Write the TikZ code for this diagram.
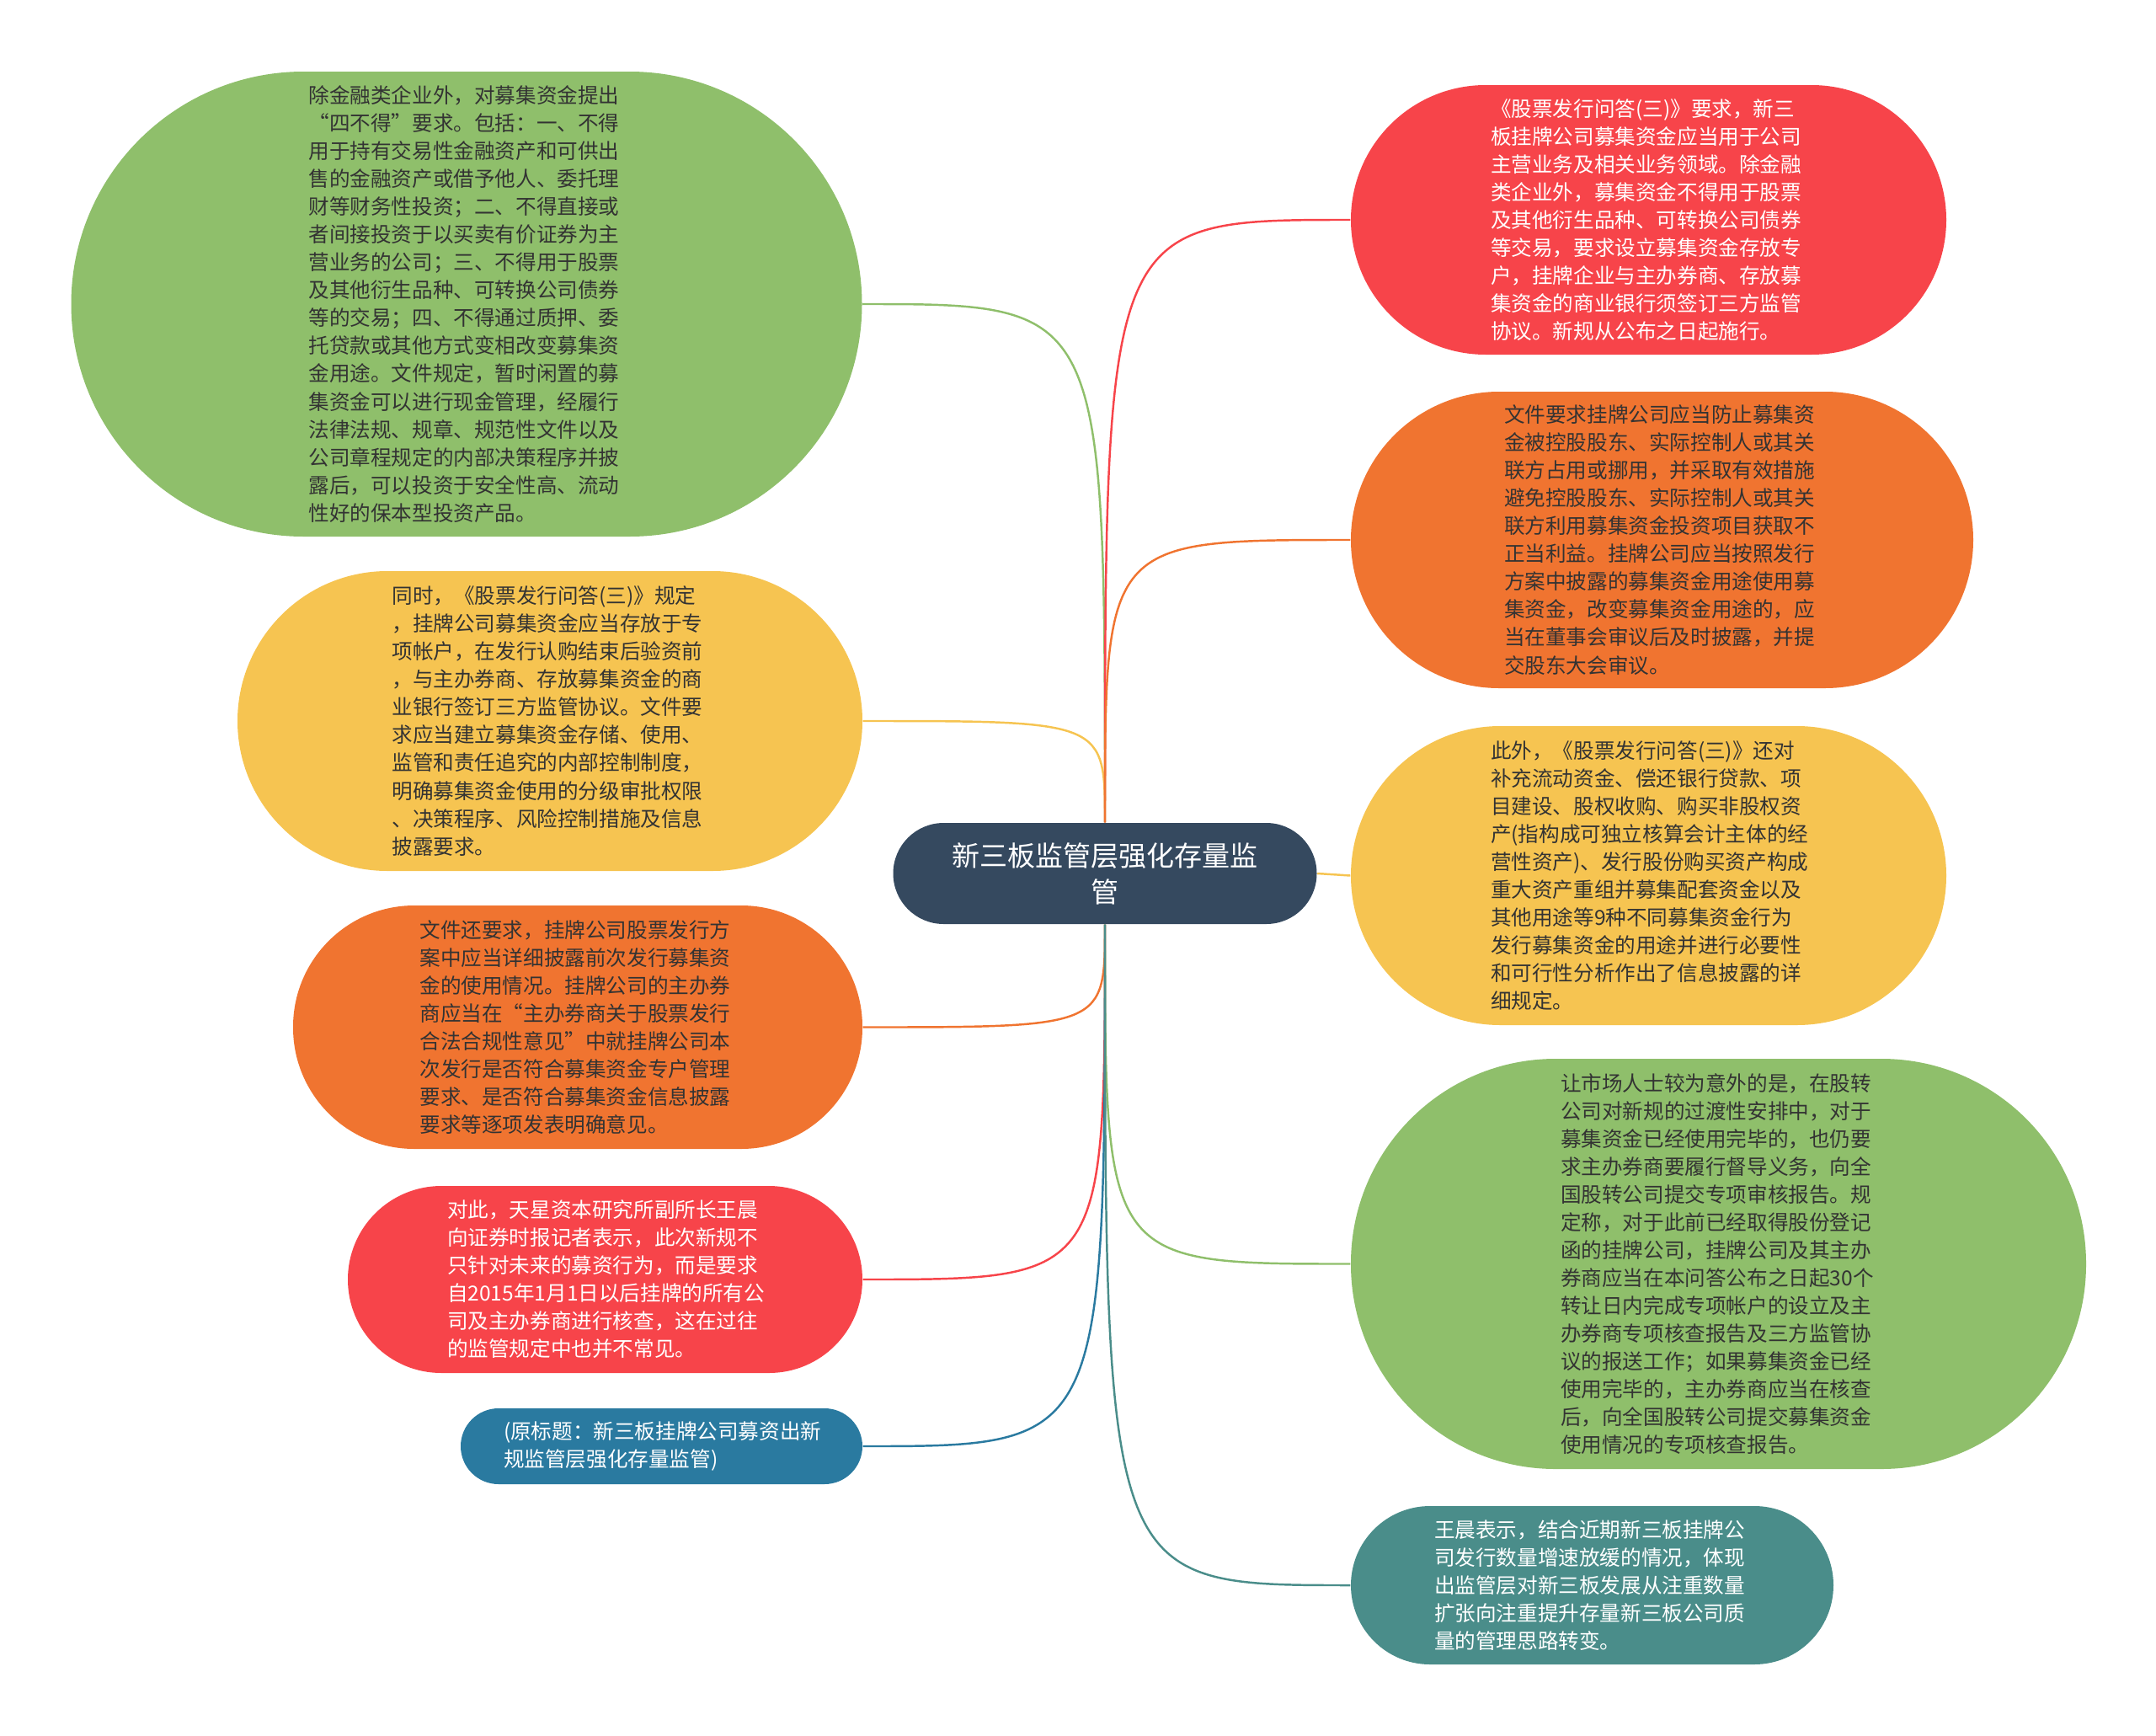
\documentclass[tikz,border=0pt]{standalone}
\usepackage{fontspec}
\newfontfamily\cjk{Noto Sans CJK SC}
\usepackage{tikz}
\definecolor{cgreen}{HTML}{8FBF6B}
\definecolor{cyellow}{HTML}{F6C451}
\definecolor{corange}{HTML}{F07430}
\definecolor{cred}{HTML}{F7444A}
\definecolor{cblue}{HTML}{2A7AA0}
\definecolor{cteal}{HTML}{4A8D8A}
\definecolor{chub}{HTML}{35495F}
\definecolor{cdark}{HTML}{333333}

\begin{document}
\begin{tikzpicture}[
  leaf/.style={rectangle,fill=#1,inner sep=0pt,text width=3.75cm,align=left,
    font=\cjk\fontsize{7}{9.4}\selectfont},
  hub/.style={rectangle,fill=chub,text=white,inner sep=0pt,text width=3.75cm,align=center,
    font=\cjk\fontsize{9.4}{12.2}\selectfont},
  link/.style={draw=#1,line width=0.7pt}
]
\useasboundingbox (0,0) rectangle (25.6,-20.61);

  \node[hub,minimum width=5.03cm,minimum height=1.2cm,rounded corners=0.6cm] (root) at (13.12,-10.37) {新三板监管层强化存量监\\管};

  % left side
  \node[leaf=cgreen,text=cdark,minimum width=9.39cm,minimum height=5.52cm,rounded corners=2.76cm] (l1) at (5.54,-3.61) {除金融类企业外，对募集资金提出\\“四不得”要求。包括：一、不得\\用于持有交易性金融资产和可供出\\售的金融资产或借予他人、委托理\\财等财务性投资；二、不得直接或\\者间接投资于以买卖有价证券为主\\营业务的公司；三、不得用于股票\\及其他衍生品种、可转换公司债券\\等的交易；四、不得通过质押、委\\托贷款或其他方式变相改变募集资\\金用途。文件规定，暂时闲置的募\\集资金可以进行现金管理，经履行\\法律法规、规章、规范性文件以及\\公司章程规定的内部决策程序并披\\露后，可以投资于安全性高、流动\\性好的保本型投资产品。};
  \node[leaf=cyellow,text=cdark,minimum width=7.42cm,minimum height=3.56cm,rounded corners=1.78cm] (l2) at (6.53,-8.56) {同时，《股票发行问答(三)》规定\\，挂牌公司募集资金应当存放于专\\项帐户，在发行认购结束后验资前\\，与主办券商、存放募集资金的商\\业银行签订三方监管协议。文件要\\求应当建立募集资金存储、使用、\\监管和责任追究的内部控制制度，\\明确募集资金使用的分级审批权限\\、决策程序、风险控制措施及信息\\披露要求。};
  \node[leaf=corange,text=cdark,minimum width=6.76cm,minimum height=2.89cm,rounded corners=1.44cm] (l3) at (6.86,-12.195) {文件还要求，挂牌公司股票发行方\\案中应当详细披露前次发行募集资\\金的使用情况。挂牌公司的主办券\\商应当在“主办券商关于股票发行\\合法合规性意见”中就挂牌公司本\\次发行是否符合募集资金专户管理\\要求、是否符合募集资金信息披露\\要求等逐项发表明确意见。};
  \node[leaf=cred,text=white,minimum width=6.11cm,minimum height=2.22cm,rounded corners=1.11cm] (l4) at (7.185,-15.19) {对此，天星资本研究所副所长王晨\\向证券时报记者表示，此次新规不\\只针对未来的募资行为，而是要求\\自2015年1月1日以后挂牌的所有公\\司及主办券商进行核查，这在过往\\的监管规定中也并不常见。};
  \node[leaf=cblue,text=white,minimum width=4.77cm,minimum height=0.9cm,rounded corners=0.45cm] (l5) at (7.855,-17.17) {(原标题：新三板挂牌公司募资出新\\规监管层强化存量监管)};

  % right side
  \node[leaf=cred,text=white,minimum width=7.07cm,minimum height=3.2cm,rounded corners=1.6cm] (r1) at (19.575,-2.61) {《股票发行问答(三)》要求，新三\\板挂牌公司募集资金应当用于公司\\主营业务及相关业务领域。除金融\\类企业外，募集资金不得用于股票\\及其他衍生品种、可转换公司债券\\等交易，要求设立募集资金存放专\\户，挂牌企业与主办券商、存放募\\集资金的商业银行须签订三方监管\\协议。新规从公布之日起施行。};
  \node[leaf=corange,text=cdark,minimum width=7.39cm,minimum height=3.52cm,rounded corners=1.76cm] (r2) at (19.735,-6.41) {文件要求挂牌公司应当防止募集资\\金被控股股东、实际控制人或其关\\联方占用或挪用，并采取有效措施\\避免控股股东、实际控制人或其关\\联方利用募集资金投资项目获取不\\正当利益。挂牌公司应当按照发行\\方案中披露的募集资金用途使用募\\集资金，改变募集资金用途的，应\\当在董事会审议后及时披露，并提\\交股东大会审议。};
  \node[leaf=cyellow,text=cdark,minimum width=7.07cm,minimum height=3.55cm,rounded corners=1.775cm] (r3) at (19.575,-10.395) {此外，《股票发行问答(三)》还对\\补充流动资金、偿还银行贷款、项\\目建设、股权收购、购买非股权资\\产(指构成可独立核算会计主体的经\\营性资产)、发行股份购买资产构成\\重大资产重组并募集配套资金以及\\其他用途等9种不同募集资金行为\\发行募集资金的用途并进行必要性\\和可行性分析作出了信息披露的详\\细规定。};
  \node[leaf=cgreen,text=cdark,minimum width=8.73cm,minimum height=4.87cm,rounded corners=2.43cm] (r4) at (20.405,-15.005) {让市场人士较为意外的是，在股转\\公司对新规的过渡性安排中，对于\\募集资金已经使用完毕的，也仍要\\求主办券商要履行督导义务，向全\\国股转公司提交专项审核报告。规\\定称，对于此前已经取得股份登记\\函的挂牌公司，挂牌公司及其主办\\券商应当在本问答公布之日起30个\\转让日内完成专项帐户的设立及主\\办券商专项核查报告及三方监管协\\议的报送工作；如果募集资金已经\\使用完毕的，主办券商应当在核查\\后，向全国股转公司提交募集资金\\使用情况的专项核查报告。};
  \node[leaf=cteal,text=white,minimum width=5.73cm,minimum height=1.88cm,rounded corners=0.94cm] (r5) at (18.905,-18.82) {王晨表示，结合近期新三板挂牌公\\司发行数量增速放缓的情况，体现\\出监管层对新三板发展从注重数量\\扩张向注重提升存量新三板公司质\\量的管理思路转变。};

  \draw[link=cgreen] (root.north) .. controls (root.north |- l1.east) .. (l1.east);
  \draw[link=cyellow] (root.north) .. controls (root.north |- l2.east) .. (l2.east);
  \draw[link=corange] (root.south) .. controls (root.south |- l3.east) .. (l3.east);
  \draw[link=cred] (root.south) .. controls (root.south |- l4.east) .. (l4.east);
  \draw[link=cblue] (root.south) .. controls (root.south |- l5.east) .. (l5.east);

  \draw[link=cred] (root.north) .. controls (root.north |- r1.west) .. (r1.west);
  \draw[link=corange] (root.north) .. controls (root.north |- r2.west) .. (r2.west);
  \draw[link=cyellow] (root.east) -- (r3.west);
  \draw[link=cgreen] (root.south) .. controls (root.south |- r4.west) .. (r4.west);
  \draw[link=cteal] (root.south) .. controls (root.south |- r5.west) .. (r5.west);

\end{tikzpicture}
\end{document}
